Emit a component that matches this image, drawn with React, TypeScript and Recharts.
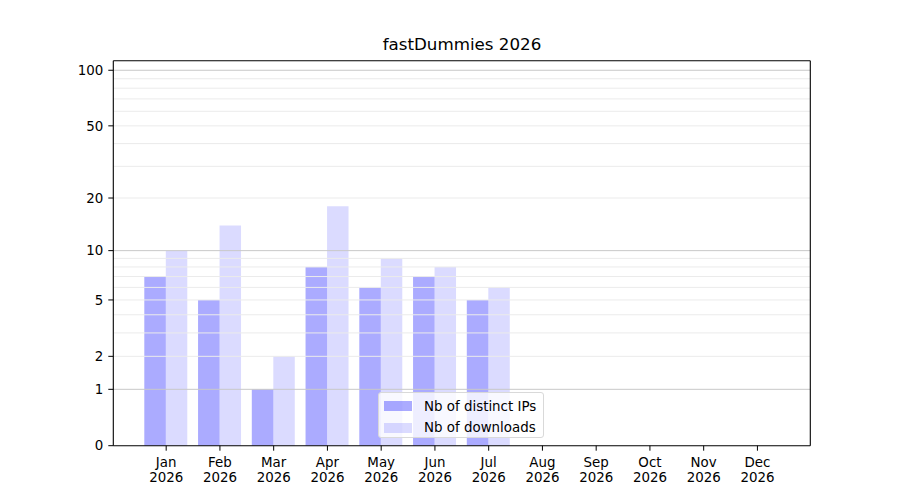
import { BarChart, Bar, XAxis, YAxis, ReferenceLine } from 'recharts'

const months = ['Jan', 'Feb', 'Mar', 'Apr', 'May', 'Jun', 'Jul', 'Aug', 'Sep', 'Oct', 'Nov', 'Dec']
const year = '2026'
const distinctIPs = [7, 5, 1, 8, 6, 7, 5, 0, 0, 0, 0, 0]
const downloads = [10, 14, 2, 18, 9, 8, 6, 0, 0, 0, 0, 0]

const yTicks = [0, 1, 2, 5, 10, 20, 50, 100]
const majorGrid = [1, 10, 100]
const minorGrid = [2, 3, 4, 5, 6, 7, 8, 9, 20, 30, 40, 50, 60, 70, 80, 90]
const yTop = 112.6

// y axis is log10(v + 1), like the original
const tf = (v: number) => Math.log10(v + 1)
const untf = (v: number) => Math.round(Math.pow(10, v) - 1)

const data = months.map((m, i) => ({ month: m, ips: tf(distinctIPs[i]), dl: tf(downloads[i]) }))

const font = '"DejaVu Sans", sans-serif'
const frame = { stroke: '#000', strokeWidth: 1.1 }

function MonthTick({ x, y, payload }: any) {
  return (
    <g fontFamily={font} fontSize={13.4} fill="#000">
      <text x={x} y={y + 16} textAnchor="middle">{payload.value}</text>
      <text x={x} y={y + 31.6} textAnchor="middle">{year}</text>
    </g>
  )
}

export default function App() {
  return (
    <div style={{ position: 'absolute', left: 0, top: 0, width: 900, height: 500, background: '#fff' }}>
      <BarChart
        width={900}
        height={500}
        data={data}
        margin={{ top: 59.7, right: 88.7, bottom: 4.3, left: 53.3 }}
        barGap={0}
        barSize={21.5}
      >
        {minorGrid.map((v) => (
          <ReferenceLine key={'mi' + v} y={tf(v)} stroke="#ebebeb" strokeWidth={1} />
        ))}
        {majorGrid.map((v) => (
          <ReferenceLine key={'ma' + v} y={tf(v)} stroke="#c8c8c8" strokeWidth={1} />
        ))}
        <XAxis
          dataKey="month"
          height={50}
          padding={{ left: 26, right: 26 }}
          axisLine={frame}
          tickLine={{ stroke: '#000' }}
          tickSize={5}
          tickMargin={0}
          interval={0}
          tick={<MonthTick />}
        />
        <XAxis xAxisId="top" dataKey="month" orientation="top" height={1} axisLine={frame} tick={false} tickLine={false} />
        <YAxis
          type="number"
          width={60}
          domain={[0, tf(yTop)]}
          ticks={yTicks.map(tf)}
          tickFormatter={(v: number) => String(untf(v))}
          allowDataOverflow
          axisLine={frame}
          tickLine={{ stroke: '#000' }}
          tickSize={5}
          tickMargin={5}
          tick={{ fill: '#000', fontSize: 13.4, fontFamily: font }}
        />
        <YAxis yAxisId="right" orientation="right" width={1} domain={[0, 1]} axisLine={frame} tick={false} tickLine={false} />
        <Bar dataKey="ips" name="Nb of distinct IPs" fill="#0000ff" fillOpacity={0.33} isAnimationActive={false} />
        <Bar dataKey="dl" name="Nb of downloads" fill="#0000ff" fillOpacity={0.14} isAnimationActive={false} />
      </BarChart>
      <div
        style={{
          position: 'absolute',
          left: 382,
          top: 34,
          width: 160,
          textAlign: 'center',
          fontFamily: font,
          fontSize: 16.7,
          color: '#000',
          whiteSpace: 'nowrap',
        }}
      >
        fastDummies 2026
      </div>
      <div
        style={{
          position: 'absolute',
          left: 378,
          top: 392,
          width: 166,
          height: 45.7,
          boxSizing: 'border-box',
          background: 'rgba(255,255,255,0.8)',
          border: '1px solid #d9d9d9',
          borderRadius: 3,
          fontFamily: font,
          fontSize: 13.4,
          color: '#000',
        }}
      >
        {[
          { label: 'Nb of distinct IPs', op: 0.33 },
          { label: 'Nb of downloads', op: 0.14 },
        ].map((it, i) => (
          <div key={i} style={{ position: 'absolute', left: 5, top: 4 + i * 21.7, height: 18, display: 'flex', alignItems: 'center' }}>
            <span style={{ display: 'inline-block', width: 28, height: 10, background: `rgba(0,0,255,${it.op})` }} />
            <span style={{ marginLeft: 12, whiteSpace: 'nowrap' }}>{it.label}</span>
          </div>
        ))}
      </div>
    </div>
  )
}
